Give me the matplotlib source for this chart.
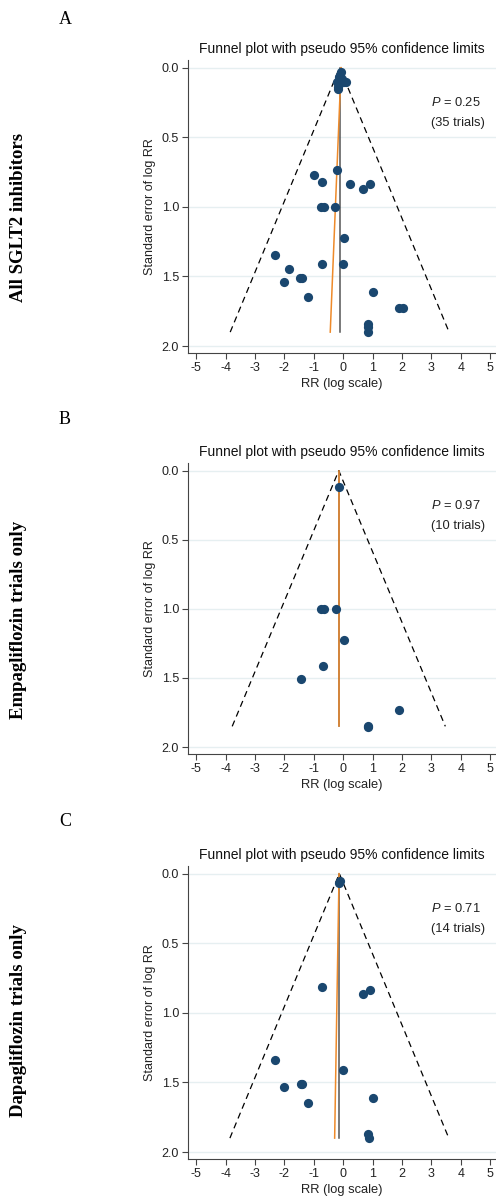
import matplotlib
matplotlib.use("Agg")
import matplotlib.pyplot as plt

plt.rcParams['font.family'] = ['Liberation Sans', 'DejaVu Sans']
plt.rcParams['mathtext.fontset'] = 'custom'
plt.rcParams['mathtext.it'] = 'Liberation Sans:italic'
plt.rcParams['mathtext.rm'] = 'Liberation Sans'
plt.rcParams['axes.unicode_minus'] = False

# 面板标签
panel_letters = ["A", "B", "C"]
panel_names = ["All SGLT2 inhibitors", "Empagliflozin trials only", "Dapagliflozin trials only"]
p_values = ["0.25", "0.97", "0.71"]
n_trials = [35, 10, 14]

# A: 全部 SGLT2 抑制剂 (log RR, SE)
logrr_a = [-0.14, -0.12, -0.15, 0.09, -0.20, -0.17, -0.09, -0.05, 0.02, -0.18, -0.12,
           -0.20, -0.98, -0.71, 0.22, 0.69, 0.91, -0.77, -0.66, -0.28, 0.03,
           -2.31, -1.83, -2.02, -1.46, -1.39, -1.18, -0.71, -0.02, 1.02,
           1.91, 2.05, 0.83, 0.84, 0.85]
se_a = [0.116, 0.055, 0.07, 0.10, 0.10, 0.155, 0.03, 0.08, 0.10, 0.14, 0.09,
        0.735, 0.769, 0.819, 0.838, 0.869, 0.838, 1.0, 1.0, 1.0, 1.226,
        1.346, 1.449, 1.540, 1.509, 1.509, 1.646, 1.413, 1.413, 1.612,
        1.725, 1.725, 1.842, 1.861, 1.902]

# B: 恩格列净
logrr_b = [-0.14, -0.75, -0.64, -0.26, 0.03, -0.70, -1.42, 1.91, 0.84, 0.85]
se_b = [0.116, 1.0, 1.0, 1.0, 1.227, 1.415, 1.51, 1.73, 1.85, 1.855]

# C: 达格列净
logrr_c = [-0.12, -0.15, -0.71, 0.69, 0.92, -2.31, -2.0, -1.45, -1.40, -1.18, -0.02, 1.03, 0.85, 0.87]
se_c = [0.055, 0.07, 0.817, 0.865, 0.836, 1.34, 1.535, 1.51, 1.51, 1.645, 1.41, 1.61, 1.87, 1.90]

# 合并效应, 最大SE, Egger 回归线端点 (顶部/底部)
pooled = [-0.12, -0.15, -0.13]
max_se = [1.90, 1.85, 1.90]
egger_top = [-0.07, -0.14, -0.14]
egger_bottom = [-0.44, -0.14, -0.29]

x_ticks = [-5, -4, -3, -2, -1, 0, 1, 2, 3, 4, 5]
y_ticks = [0.0, 0.5, 1.0, 1.5, 2.0]

all_x = [logrr_a, logrr_b, logrr_c]
all_y = [se_a, se_b, se_c]

W, H = 496, 1197
fig = plt.figure(figsize=(W / 100, H / 100), dpi=100)

# 每个面板坐标轴的 (上, 下) 像素
axes_px = [(60, 353), (463, 754), (866, 1159)]
letter_y = [20, 420, 822]
name_y = [217, 620, 1021]

for i in range(3):
    top, bottom = axes_px[i]
    ax = fig.add_axes([188 / W, (H - bottom) / H, (W - 188) / W, (bottom - top) / H])

    # 伪 95% 置信限
    c = pooled[i]
    m = max_se[i]
    ax.plot([c - 1.96 * m, c, c + 1.96 * m], [m, 0, m], color='black', lw=0.9,
            linestyle=(0, (5, 3.5)), zorder=2)
    ax.plot([c, c], [0, m], color='#555555', lw=1.1, zorder=3)
    ax.plot([egger_top[i], egger_bottom[i]], [0, m], color='#ee8a2a', lw=1.1, zorder=4)
    ax.scatter(all_x[i], all_y[i], s=44, color='#1a476f', zorder=5, linewidths=0)

    ax.set_xlim(-5.28, 5.2)
    ax.set_ylim(2.05, -0.055)
    ax.set_xticks(x_ticks)
    ax.set_yticks(y_ticks)
    ax.set_yticklabels(["%.1f" % v for v in y_ticks])
    ax.grid(axis='y', color='#e6eff1', lw=1.0, zorder=0)
    ax.set_axisbelow(True)
    for s in ['top', 'right']:
        ax.spines[s].set_visible(False)
    for s in ['left', 'bottom']:
        ax.spines[s].set_color('#444444')
        ax.spines[s].set_linewidth(0.8)
    ax.tick_params(colors='#444444', labelcolor='#222222', labelsize=9, length=4, width=0.8, pad=2.5)
    ax.set_xlabel("RR (log scale)", fontsize=9.3, color='#222222', labelpad=3)
    ax.set_ylabel("Standard error of log RR", fontsize=9, color='#222222', labelpad=4)
    ax.set_title("Funnel plot with pseudo 95% confidence limits", fontsize=10,
                 color='#111111', pad=5)

    ax.text(3.0, 0.25, "$P$ = " + p_values[i], fontsize=9.3, va='center', ha='left', color='#222222')
    ax.text(3.0, 0.40, "(%d trials)" % n_trials[i], fontsize=9.3, va='center', ha='left', color='#222222')

    fig.text(65 / W, 1 - letter_y[i] / H, panel_letters[i], family='Liberation Serif',
             fontsize=13, ha='center', va='center')
    fig.text(19 / W, 1 - name_y[i] / H, panel_names[i], family='Liberation Serif',
             fontweight='bold', fontsize=13.5, rotation=90, ha='center', va='center')

fig.savefig("out.png", dpi=100)
